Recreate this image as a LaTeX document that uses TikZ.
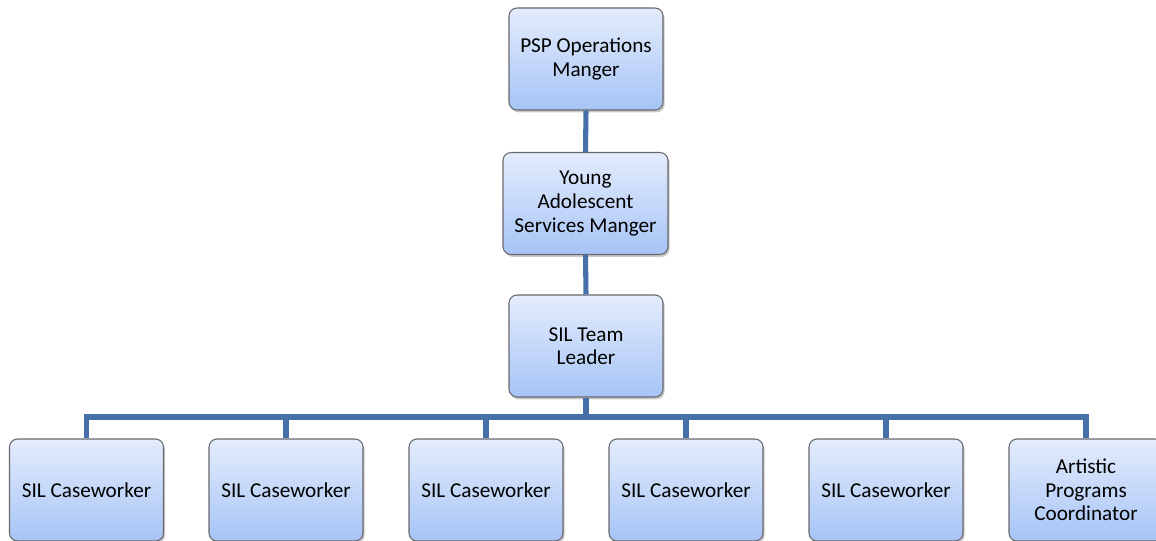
\documentclass[tikz,border=0pt]{standalone}
\usepackage{fontspec}
\setmainfont{Carlito}
\usetikzlibrary{shadows}
\definecolor{conncol}{RGB}{70,112,168}
\definecolor{boxtop}{RGB}{228,236,252}
\definecolor{boxbot}{RGB}{166,196,246}
\definecolor{boxline}{RGB}{105,105,110}
\tikzset{
  orgbox/.style={draw=boxline, line width=0.8pt, rounded corners=6pt,
    top color=boxtop, bottom color=boxbot,
    minimum width=154*0.75pt, minimum height=102*0.75pt,
    align=center, inner sep=2pt,
    font=\fontsize{15.9}{17.7}\selectfont,
    drop shadow={shadow xshift=1.2pt, shadow yshift=-1.8pt, opacity=0.35, fill=black!60}},
  conn/.style={draw=conncol, line width=3.8pt}
}
\begin{document}
\begin{tikzpicture}[x=0.75pt,y=-0.75pt]
\useasboundingbox[fill=white] (0,0) rectangle (1156,540);
\node[orgbox] (top) at (586,59) {PSP Operations\\Manger};
\node[orgbox, minimum width=165*0.75pt] (mid) at (585.5,203.5) {Young\\Adolescent\\Services Manger};
\node[orgbox] (lead) at (586,346) {SIL Team\\Leader};
\node[orgbox] (b1) at (86.5,490) {SIL Caseworker};
\node[orgbox] (b2) at (286,490) {SIL Caseworker};
\node[orgbox] (b3) at (486,490) {SIL Caseworker};
\node[orgbox] (b4) at (686,490) {SIL Caseworker};
\node[orgbox] (b5) at (886,490) {SIL Caseworker};
\node[orgbox] (b6) at (1086,490) {Artistic\\Programs\\Coordinator};
\coordinate (bus) at (586,417);
\draw[conn] (top.south) -- (mid.north);
\draw[conn] (mid.south) -- (lead.north);
\draw[conn] (lead.south) -- (bus);
\foreach \b in {b1,b2,b3,b4,b5,b6}{
  \draw[conn] (bus) -| (\b.north);
}
\end{tikzpicture}
\end{document}
